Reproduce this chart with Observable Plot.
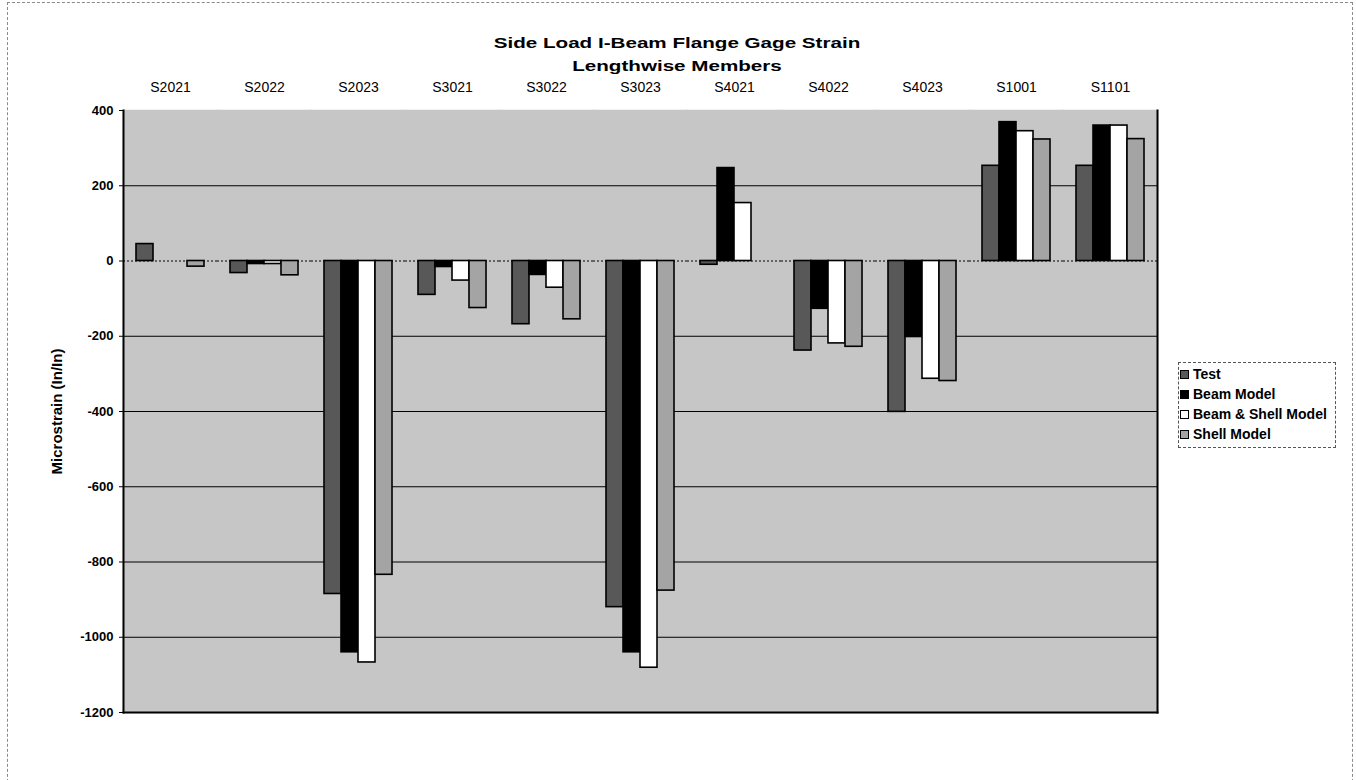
<!DOCTYPE html>
<html>
<head>
<meta charset="utf-8">
<script src="https://cdn.jsdelivr.net/npm/d3@7"></script>
<script src="https://cdn.jsdelivr.net/npm/@observablehq/plot@0.6"></script>
<style>
  body { margin: 0; background: #fff; font-family: "Liberation Sans", Arial, sans-serif; }
  #wrap { position: relative; width: 1356px; height: 780px; overflow: hidden; }
  #border { position: absolute; left: 7px; top: 2px; width: 1346px; height: 820px; border: 1px dashed #8a8a8a; box-sizing: border-box; }
  .title { position: absolute; left: 0; width: 1354px; text-align: center; font-weight: bold; font-size: 15.5px; line-height: 18px; color: #000; transform: scaleX(1.33); transform-origin: 677px 0; }
  #chart { position: absolute; left: 0; top: 0; }
  #legend { position: absolute; left: 1178px; top: 362px; width: 158px; height: 86px; border: 1px dashed #555; box-sizing: border-box; padding-top: 1px; }
  .item { display: flex; align-items: center; height: 20px; font-size: 14px; font-weight: bold; color: #000; white-space: nowrap; }
  .sw { width: 7px; height: 7px; border: 1px solid #000; margin: 0 4px 0 1px; flex: none; }
</style>
</head>
<body>
<div id="wrap">
  <div id="border"></div>
  <div id="chart"></div>
  <div class="title" id="t1" style="top:34px"></div>
  <div class="title" id="t2" style="top:57px"></div>
  <div id="legend"></div>
</div>
<script>
const titleText = "Side Load I-Beam Flange Gage Strain";
const subtitleText = "Lengthwise Members";
const yLabel = "Microstrain (In/In)";
const categories = ["S2021", "S2022", "S2023", "S3021", "S3022", "S3023", "S4021", "S4022", "S4023", "S1001", "S1101"];
const series = ["Test", "Beam Model", "Beam & Shell Model", "Shell Model"];
const test      = [45, -32, -885, -90, -168, -920, -10, -238, -401, 253, 253];
const beam      = [null, -8, -1040, -16, -37, -1040, 247, -127, -202, 369, 360];
const beamShell = [null, -8, -1067, -52, -71, -1081, 154, -219, -313, 345, 360];
const shell     = [-15, -38, -834, -125, -155, -876, null, -228, -319, 323, 324];
const yTicks = [-1200, -1000, -800, -600, -400, -200, 0, 200, 400];
const seriesColors = ["#585858", "#000000", "#ffffff", "#a4a4a4"];
const plotBg = "#c6c6c6";

const values = [test, beam, beamShell, shell];
const rows = categories.flatMap((c, i) =>
  series.map((s, j) => ({cat: c, series: s, value: values[j][i]}))
).filter(d => d.value != null);

document.getElementById("t1").textContent = titleText;
document.getElementById("t2").textContent = subtitleText;

const chart = Plot.plot({
  width: 1356,
  height: 780,
  marginLeft: 118,
  marginRight: 194,
  marginTop: 110,
  marginBottom: 68,
  style: {fontFamily: "'Liberation Sans', Arial, sans-serif", fontSize: "12px", color: "#000", background: "transparent"},
  fx: {domain: categories, padding: 0, axis: null},
  x: {domain: series, paddingInner: 0, paddingOuter: 0.64, axis: null},
  y: {domain: [-1200, 400], axis: null},
  color: {domain: series, range: seriesColors},
  marks: [
    Plot.frame({fill: plotBg, stroke: plotBg, strokeWidth: 1.5}),
    Plot.gridY(yTicks.filter(v => v !== 0 && v !== -1200 && v !== 400), {stroke: "#000", strokeOpacity: 1, strokeWidth: 1}),
    Plot.ruleY([0], {stroke: "#000", strokeDasharray: "2,2"}),
    Plot.barY(rows, {fx: "cat", x: "series", y: "value", fill: "series", stroke: "#000", strokeWidth: 1.6}),
    Plot.axisFx({anchor: "top", tickSize: 0, tickPadding: 19, label: null, fontSize: 14}),
    Plot.axisY({ticks: yTicks, tickSize: 4, tickPadding: 6, fontWeight: "bold", fontSize: 13,
      tickFormat: d => String(d),
      label: yLabel, labelAnchor: "center", labelOffset: 72, labelArrow: "none"}),
    Plot.frame({facet: "super", anchor: "left", stroke: "#000", strokeWidth: 2}),
    Plot.frame({facet: "super", anchor: "bottom", stroke: "#000", strokeWidth: 2}),
    Plot.frame({facet: "super", anchor: "right", stroke: "#000", strokeWidth: 2, strokeDasharray: "2,1"})
  ]
});
// enlarge the y-axis title only
chart.querySelectorAll("text").forEach(t => {
  if (t.textContent === yLabel) t.setAttribute("font-size", 15);
});
document.getElementById("chart").appendChild(chart);

const legend = document.getElementById("legend");
series.forEach((s, i) => {
  const it = document.createElement("div");
  it.className = "item";
  const sw = document.createElement("span");
  sw.className = "sw";
  sw.style.background = seriesColors[i];
  const tx = document.createElement("span");
  tx.textContent = s;
  it.appendChild(sw);
  it.appendChild(tx);
  legend.appendChild(it);
});
</script>
</body>
</html>
